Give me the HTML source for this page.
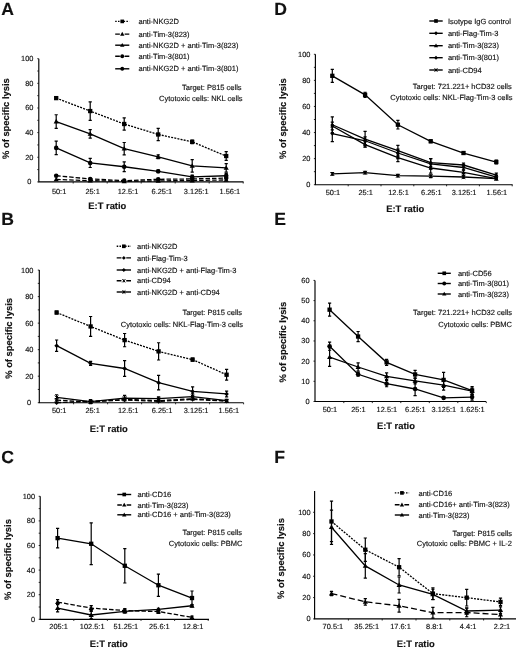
<!DOCTYPE html>
<html><head><meta charset="utf-8"><title>Figure</title>
<style>
html,body{margin:0;padding:0;background:#fff;}
body{width:520px;height:650px;overflow:hidden;}
svg{display:block;filter:blur(0.3px);}
text{font-family:"Liberation Sans",sans-serif;fill:#111;stroke:#111;stroke-width:0.15px;text-rendering:geometricPrecision;}
</style></head>
<body>
<svg width="520" height="650" viewBox="0 0 520 650">
<rect width="520" height="650" fill="#fff"/>
<g fill="#000">
<text x="1.2" y="15.2" font-size="17.6" font-weight="bold">A</text>
<path d="M38.8,58.7V181.9H243.5" fill="none" stroke="#000" stroke-width="1.15"/>
<path d="M38.8,181.9h-1.5M38.8,169.58h-1.5M38.8,157.26h-1.5M38.8,144.94h-1.5M38.8,132.62h-1.5M38.8,120.3h-1.5M38.8,107.98h-1.5M38.8,95.66h-1.5M38.8,83.34h-1.5M38.8,71.02h-1.5M38.8,58.7h-1.5M73.2,181.9v1.6M107.2,181.9v1.6M141.2,181.9v1.6M175.2,181.9v1.6M209.2,181.9v1.6M243.2,181.9v1.6" fill="none" stroke="#111" stroke-width="0.9"/>
<text x="31.4" y="184.35" font-size="7.4" text-anchor="end">0</text>
<text x="33.4" y="159.71" font-size="7.4" text-anchor="end">20</text>
<text x="33.4" y="135.07" font-size="7.4" text-anchor="end">40</text>
<text x="33.4" y="110.43" font-size="7.4" text-anchor="end">60</text>
<text x="33.4" y="85.79" font-size="7.4" text-anchor="end">80</text>
<text x="33.4" y="61.15" font-size="7.4" text-anchor="end">100</text>
<text x="59.1" y="194" font-size="7.4" text-anchor="middle">50:1</text>
<text x="92.6" y="194" font-size="7.4" text-anchor="middle">25:1</text>
<text x="128" y="194" font-size="7.4" text-anchor="middle">12.5:1</text>
<text x="161.8" y="194" font-size="7.4" text-anchor="middle">6.25:1</text>
<text x="196.2" y="194" font-size="7.4" text-anchor="middle">3.125:1</text>
<text x="229.8" y="194" font-size="7.4" text-anchor="middle">1.56:1</text>
<text x="88.3" y="208.5" font-size="9.4" font-weight="bold">E:T ratio</text>
<text transform="translate(9.4,159) rotate(-90)" font-size="9.4" font-weight="bold">% of specific lysis</text>
<text x="241.6" y="90.2" font-size="7.5" text-anchor="end">Target: P815 cells</text>
<text x="242.6" y="101" font-size="7.5" text-anchor="end">Cytotoxic cells: NKL cells</text>
<path d="M115.2,21.4H129.3" stroke="#000" stroke-width="1.4000000000000001" stroke-dasharray="1.5,1.3"/>
<rect x="120.42" y="19.57" width="3.65" height="3.65"/>
<text x="138.5" y="24" font-size="7.5">anti-NKG2D</text>
<path d="M115.2,34.1H119.85M124.65,34.1H129.3" stroke="#000" stroke-width="1.4000000000000001"/>
<path d="M122.25,31.8L124.43,35.71L120.07,35.71Z"/>
<text x="138.5" y="36.7" font-size="7.5">anti-Tim-3(823)</text>
<path d="M115.2,45.2H129.3" stroke="#000" stroke-width="1.4000000000000001"/>
<path d="M122.25,42.91L124.43,46.81L120.07,46.81Z"/>
<text x="138.5" y="47.8" font-size="7.5">anti-NKG2D + anti-Tim-3(823)</text>
<path d="M115.2,56.3H119.85M124.65,56.3H129.3" stroke="#000" stroke-width="1.4000000000000001"/>
<circle cx="122.25" cy="56.3" r="1.95"/>
<text x="138.5" y="58.9" font-size="7.5">anti-Tim-3(801)</text>
<path d="M115.2,68.8H129.3" stroke="#000" stroke-width="1.4000000000000001"/>
<circle cx="122.25" cy="68.8" r="1.95"/>
<text x="138.5" y="71.4" font-size="7.5">anti-NKG2D + anti-Tim-3(801)</text>
<polyline points="56.2,98.12 90.2,111.06 124.2,124 158.2,134.47 192.2,141.86 226.2,156.03" fill="none" stroke="#000" stroke-width="1.3" stroke-dasharray="2,1.2"/>
<polyline points="56.2,179.44 90.2,180.67 124.2,181.28 158.2,180.91 192.2,180.54 226.2,179.93" fill="none" stroke="#000" stroke-width="1.3" stroke-dasharray="4.5,2"/>
<polyline points="56.2,121.53 90.2,133.85 124.2,148.64 158.2,156.77 192.2,165.88 226.2,167.86" fill="none" stroke="#000" stroke-width="1.3"/>
<polyline points="56.2,175.74 90.2,178.94 124.2,180.67 158.2,179.31 192.2,178.94 226.2,178.08" fill="none" stroke="#000" stroke-width="1.3" stroke-dasharray="4.5,2"/>
<polyline points="56.2,147.9 90.2,162.93 124.2,166.75 158.2,171.3 192.2,176.97 226.2,175.74" fill="none" stroke="#000" stroke-width="1.3"/>
<path d="M56.2,96.89V99.36M54.6,96.89h3.2M54.6,99.36h3.2M90.2,101.82V120.3M88.6,101.82h3.2M88.6,120.3h3.2M124.2,117.84V130.16M122.6,117.84h3.2M122.6,130.16h3.2M158.2,128.31V140.63M156.6,128.31h3.2M156.6,140.63h3.2M192.2,140.01V143.71M190.6,140.01h3.2M190.6,143.71h3.2M226.2,151.72V160.34M224.6,151.72h3.2M224.6,160.34h3.2" fill="none" stroke="#000" stroke-width="1.2"/>
<rect x="54.05" y="95.97" width="4.3" height="4.3"/>
<rect x="88.05" y="108.91" width="4.3" height="4.3"/>
<rect x="122.05" y="121.85" width="4.3" height="4.3"/>
<rect x="156.05" y="132.32" width="4.3" height="4.3"/>
<rect x="190.05" y="139.71" width="4.3" height="4.3"/>
<rect x="224.05" y="153.88" width="4.3" height="4.3"/>
<path d="M56.2,176.74L58.77,181.33L53.64,181.33Z"/>
<path d="M90.2,177.97L92.77,182.56L87.64,182.56Z"/>
<path d="M124.2,178.58L126.77,183.17L121.64,183.17Z"/>
<path d="M158.2,178.21L160.76,182.8L155.63,182.8Z"/>
<path d="M192.2,177.84L194.76,182.43L189.63,182.43Z"/>
<path d="M226.2,177.23L228.76,181.82L223.63,181.82Z"/>
<path d="M56.2,114.76V128.31M54.6,114.76h3.2M54.6,128.31h3.2M90.2,129.54V138.16M88.6,129.54h3.2M88.6,138.16h3.2M124.2,142.48V154.8M122.6,142.48h3.2M122.6,154.8h3.2M158.2,154.92V158.62M156.6,154.92h3.2M156.6,158.62h3.2M192.2,159.72V172.04M190.6,159.72h3.2M190.6,172.04h3.2M226.2,163.54V172.17M224.6,163.54h3.2M224.6,172.17h3.2" fill="none" stroke="#000" stroke-width="1.2"/>
<path d="M56.2,118.83L58.77,123.42L53.64,123.42Z"/>
<path d="M90.2,131.15L92.77,135.74L87.64,135.74Z"/>
<path d="M124.2,145.94L126.77,150.53L121.64,150.53Z"/>
<path d="M158.2,154.07L160.76,158.66L155.63,158.66Z"/>
<path d="M192.2,163.18L194.76,167.77L189.63,167.77Z"/>
<path d="M226.2,165.16L228.76,169.75L223.63,169.75Z"/>
<circle cx="56.2" cy="175.74" r="2.3"/>
<circle cx="90.2" cy="178.94" r="2.3"/>
<circle cx="124.2" cy="180.67" r="2.3"/>
<circle cx="158.2" cy="179.31" r="2.3"/>
<circle cx="192.2" cy="178.94" r="2.3"/>
<circle cx="226.2" cy="178.08" r="2.3"/>
<path d="M56.2,141.12V154.67M54.6,141.12h3.2M54.6,154.67h3.2M90.2,158.37V167.49M88.6,158.37h3.2M88.6,167.49h3.2M124.2,161.82V171.67M122.6,161.82h3.2M122.6,171.67h3.2M158.2,170.07V172.54M156.6,170.07h3.2M156.6,172.54h3.2M192.2,175.12V178.82M190.6,175.12h3.2M190.6,178.82h3.2M226.2,173.28V178.2M224.6,173.28h3.2M224.6,178.2h3.2" fill="none" stroke="#000" stroke-width="1.2"/>
<circle cx="56.2" cy="147.9" r="2.3"/>
<circle cx="90.2" cy="162.93" r="2.3"/>
<circle cx="124.2" cy="166.75" r="2.3"/>
<circle cx="158.2" cy="171.3" r="2.3"/>
<circle cx="192.2" cy="176.97" r="2.3"/>
<circle cx="226.2" cy="175.74" r="2.3"/>
<text x="1.2" y="225" font-size="17.6" font-weight="bold">B</text>
<path d="M39.3,270.1V402.7H243.5" fill="none" stroke="#000" stroke-width="1.15"/>
<path d="M39.3,402.7h-1.5M39.3,389.44h-1.5M39.3,376.18h-1.5M39.3,362.92h-1.5M39.3,349.66h-1.5M39.3,336.4h-1.5M39.3,323.14h-1.5M39.3,309.88h-1.5M39.3,296.62h-1.5M39.3,283.36h-1.5M39.3,270.1h-1.5M73.6,402.7v1.6M107.6,402.7v1.6M141.6,402.7v1.6M175.6,402.7v1.6M209.6,402.7v1.6M243.6,402.7v1.6" fill="none" stroke="#111" stroke-width="0.9"/>
<text x="31.2" y="405.15" font-size="7.4" text-anchor="end">0</text>
<text x="33.4" y="378.63" font-size="7.4" text-anchor="end">20</text>
<text x="33.4" y="352.11" font-size="7.4" text-anchor="end">40</text>
<text x="33.4" y="325.59" font-size="7.4" text-anchor="end">60</text>
<text x="33.4" y="299.07" font-size="7.4" text-anchor="end">80</text>
<text x="33.4" y="272.55" font-size="7.4" text-anchor="end">100</text>
<text x="59.2" y="413" font-size="7.4" text-anchor="middle">50:1</text>
<text x="92.6" y="413" font-size="7.4" text-anchor="middle">25:1</text>
<text x="128.2" y="413" font-size="7.4" text-anchor="middle">12.5:1</text>
<text x="162" y="413" font-size="7.4" text-anchor="middle">6.25:1</text>
<text x="196.1" y="413" font-size="7.4" text-anchor="middle">3.125:1</text>
<text x="228.8" y="413" font-size="7.4" text-anchor="middle">1.56:1</text>
<text x="89.8" y="431.8" font-size="9.4" font-weight="bold">E:T ratio</text>
<text transform="translate(12,378.8) rotate(-90)" font-size="9.4" font-weight="bold">% of specific lysis</text>
<text x="242" y="314.5" font-size="7.5" text-anchor="end">Target: P815 cells</text>
<text x="243" y="327" font-size="7.5" text-anchor="end">Cytotoxic cells: NKL-Flag-Tim-3 cells</text>
<path d="M116.7,246.3H131" stroke="#000" stroke-width="1.4000000000000001" stroke-dasharray="1.5,1.3"/>
<rect x="122.02" y="244.47" width="3.65" height="3.65"/>
<text x="137" y="248.9" font-size="7.5">anti-NKG2D</text>
<path d="M116.7,257.9H121.45M126.25,257.9H131" stroke="#000" stroke-width="1.4000000000000001"/>
<path d="M123.85,255.94L125.8,257.9L123.85,259.85L121.89,257.9Z"/>
<text x="137" y="260.5" font-size="7.5">anti-Flag-Tim-3</text>
<path d="M116.7,270H131" stroke="#000" stroke-width="1.4000000000000001"/>
<path d="M123.85,268.05L125.8,270L123.85,271.95L121.89,270Z"/>
<text x="137" y="272.6" font-size="7.5">anti-NKG2D + anti-Flag-Tim-3</text>
<path d="M116.7,280.8H121.45M126.25,280.8H131" stroke="#000" stroke-width="1.4000000000000001"/>
<path d="M122.32,279.27L125.38,282.33M125.38,279.27L122.32,282.33M123.85,279.27L123.85,282.33" fill="none" stroke="#000" stroke-width="1"/>
<text x="137" y="283.4" font-size="7.5">anti-CD94</text>
<path d="M116.7,292H131" stroke="#000" stroke-width="1.4000000000000001"/>
<path d="M122.32,290.47L125.38,293.53M125.38,290.47L122.32,293.53M123.85,290.47L123.85,293.53" fill="none" stroke="#000" stroke-width="1"/>
<text x="137" y="294.6" font-size="7.5">anti-NKG2D + anti-CD94</text>
<polyline points="56.6,312.53 90.6,326.45 124.6,340.11 158.6,351.38 192.6,359.61 226.6,374.72" fill="none" stroke="#000" stroke-width="1.3" stroke-dasharray="2,1.2"/>
<polyline points="56.6,402.7 90.6,401.37 124.6,400.05 158.6,401.37 192.6,399.38 226.6,401.11" fill="none" stroke="#000" stroke-width="1.3" stroke-dasharray="4.5,2"/>
<polyline points="56.6,345.68 90.6,363.45 124.6,368.49 158.6,382.68 192.6,391.43 226.6,393.95" fill="none" stroke="#000" stroke-width="1.3"/>
<polyline points="56.6,400.05 90.6,402.04 124.6,399.38 158.6,400.71 192.6,398.72 226.6,400.98" fill="none" stroke="#000" stroke-width="1.3" stroke-dasharray="4.5,2"/>
<polyline points="56.6,397.4 90.6,401.64 124.6,398.06 158.6,398.72 192.6,396.6 226.6,400.71" fill="none" stroke="#000" stroke-width="1.3"/>
<path d="M56.6,311.21V313.86M55,311.21h3.2M55,313.86h3.2M90.6,316.51V336.4M89,316.51h3.2M89,336.4h3.2M124.6,333.48V346.74M123,333.48h3.2M123,346.74h3.2M158.6,342.76V360M157,342.76h3.2M157,360h3.2M192.6,358.01V361.2M191,358.01h3.2M191,361.2h3.2M226.6,369.42V380.03M225,369.42h3.2M225,380.03h3.2" fill="none" stroke="#000" stroke-width="1.2"/>
<rect x="54.45" y="310.38" width="4.3" height="4.3"/>
<rect x="88.45" y="324.31" width="4.3" height="4.3"/>
<rect x="122.45" y="337.96" width="4.3" height="4.3"/>
<rect x="156.45" y="349.23" width="4.3" height="4.3"/>
<rect x="190.45" y="357.46" width="4.3" height="4.3"/>
<rect x="224.45" y="372.57" width="4.3" height="4.3"/>
<path d="M56.6,400.4L58.9,402.7L56.6,405L54.3,402.7Z"/>
<path d="M90.6,399.07L92.9,401.37L90.6,403.67L88.3,401.37Z"/>
<path d="M124.6,397.75L126.9,400.05L124.6,402.35L122.3,400.05Z"/>
<path d="M158.6,399.07L160.9,401.37L158.6,403.67L156.3,401.37Z"/>
<path d="M192.6,397.08L194.9,399.38L192.6,401.69L190.3,399.38Z"/>
<path d="M226.6,398.81L228.9,401.11L226.6,403.41L224.3,401.11Z"/>
<path d="M56.6,339.98V351.38M55,339.98h3.2M55,351.38h3.2M90.6,361.46V365.44M89,361.46h3.2M89,365.44h3.2M124.6,360.53V376.45M123,360.53h3.2M123,376.45h3.2M158.6,375.38V389.97M157,375.38h3.2M157,389.97h3.2M192.6,386.79V396.07M191,386.79h3.2M191,396.07h3.2M226.6,391.03V396.87M225,391.03h3.2M225,396.87h3.2" fill="none" stroke="#000" stroke-width="1.2"/>
<path d="M56.6,343.38L58.9,345.68L56.6,347.98L54.3,345.68Z"/>
<path d="M90.6,361.15L92.9,363.45L90.6,365.75L88.3,363.45Z"/>
<path d="M124.6,366.19L126.9,368.49L124.6,370.79L122.3,368.49Z"/>
<path d="M158.6,380.38L160.9,382.68L158.6,384.98L156.3,382.68Z"/>
<path d="M192.6,389.13L194.9,391.43L192.6,393.73L190.3,391.43Z"/>
<path d="M226.6,391.65L228.9,393.95L226.6,396.25L224.3,393.95Z"/>
<path d="M54.8,398.25L58.4,401.85M58.4,398.25L54.8,401.85M56.6,398.25L56.6,401.85" fill="none" stroke="#000" stroke-width="1"/>
<path d="M88.8,400.24L92.4,403.84M92.4,400.24L88.8,403.84M90.6,400.24L90.6,403.84" fill="none" stroke="#000" stroke-width="1"/>
<path d="M122.8,397.58L126.4,401.19M126.4,397.58L122.8,401.19M124.6,397.58L124.6,401.19" fill="none" stroke="#000" stroke-width="1"/>
<path d="M156.8,398.91L160.4,402.51M160.4,398.91L156.8,402.51M158.6,398.91L158.6,402.51" fill="none" stroke="#000" stroke-width="1"/>
<path d="M190.8,396.92L194.4,400.52M194.4,396.92L190.8,400.52M192.6,396.92L192.6,400.52" fill="none" stroke="#000" stroke-width="1"/>
<path d="M224.8,399.18L228.4,402.78M228.4,399.18L224.8,402.78M226.6,399.18L226.6,402.78" fill="none" stroke="#000" stroke-width="1"/>
<path d="M56.6,394.74V400.05M55,394.74h3.2M55,400.05h3.2M90.6,399.65V403.63M89,399.65h3.2M89,403.63h3.2M124.6,395.41V400.71M123,395.41h3.2M123,400.71h3.2M158.6,396.73V400.71M157,396.73h3.2M157,400.71h3.2M192.6,393.95V399.25M191,393.95h3.2M191,399.25h3.2M226.6,399.38V402.04M225,399.38h3.2M225,402.04h3.2" fill="none" stroke="#000" stroke-width="1.2"/>
<path d="M54.8,395.6L58.4,399.2M58.4,395.6L54.8,399.2M56.6,395.6L56.6,399.2" fill="none" stroke="#000" stroke-width="1"/>
<path d="M88.8,399.84L92.4,403.44M92.4,399.84L88.8,403.44M90.6,399.84L90.6,403.44" fill="none" stroke="#000" stroke-width="1"/>
<path d="M122.8,396.26L126.4,399.86M126.4,396.26L122.8,399.86M124.6,396.26L124.6,399.86" fill="none" stroke="#000" stroke-width="1"/>
<path d="M156.8,396.92L160.4,400.52M160.4,396.92L156.8,400.52M158.6,396.92L158.6,400.52" fill="none" stroke="#000" stroke-width="1"/>
<path d="M190.8,394.8L194.4,398.4M194.4,394.8L190.8,398.4M192.6,394.8L192.6,398.4" fill="none" stroke="#000" stroke-width="1"/>
<path d="M224.8,398.91L228.4,402.51M228.4,398.91L224.8,402.51M226.6,398.91L226.6,402.51" fill="none" stroke="#000" stroke-width="1"/>
<text x="1.2" y="463" font-size="17.6" font-weight="bold">C</text>
<path d="M40.2,496.3V619.3H209" fill="none" stroke="#000" stroke-width="1.15"/>
<path d="M40.2,619.3h-1.5M40.2,607h-1.5M40.2,594.7h-1.5M40.2,582.4h-1.5M40.2,570.1h-1.5M40.2,557.8h-1.5M40.2,545.5h-1.5M40.2,533.2h-1.5M40.2,520.9h-1.5M40.2,508.6h-1.5M40.2,496.3h-1.5M73.8,619.3v1.6M107.4,619.3v1.6M141,619.3v1.6M174.6,619.3v1.6M208.2,619.3v1.6" fill="none" stroke="#111" stroke-width="0.9"/>
<text x="35" y="621.75" font-size="7.4" text-anchor="end">0</text>
<text x="35" y="597.15" font-size="7.4" text-anchor="end">20</text>
<text x="35" y="572.55" font-size="7.4" text-anchor="end">40</text>
<text x="35" y="547.95" font-size="7.4" text-anchor="end">60</text>
<text x="35" y="523.35" font-size="7.4" text-anchor="end">80</text>
<text x="35" y="498.75" font-size="7.4" text-anchor="end">100</text>
<text x="58.6" y="628.6" font-size="7.4" text-anchor="middle">205:1</text>
<text x="92.2" y="628.6" font-size="7.4" text-anchor="middle">102.5:1</text>
<text x="125.8" y="628.6" font-size="7.4" text-anchor="middle">51.25:1</text>
<text x="159.4" y="628.6" font-size="7.4" text-anchor="middle">25.6:1</text>
<text x="193" y="628.6" font-size="7.4" text-anchor="middle">12.8:1</text>
<text x="89.8" y="647" font-size="9.4" font-weight="bold">E:T ratio</text>
<text transform="translate(11.4,599.9) rotate(-90)" font-size="9.4" font-weight="bold">% of specific lysis</text>
<text x="242" y="535.3" font-size="7.5" text-anchor="end">Target: P815 cells</text>
<text x="242.5" y="545.6" font-size="7.5" text-anchor="end">Cytotoxic cells: PBMC</text>
<path d="M117.3,494.5H131.2" stroke="#000" stroke-width="1.4000000000000001"/>
<rect x="122.42" y="492.67" width="3.65" height="3.65"/>
<text x="137.5" y="497.1" font-size="7.5">anti-CD16</text>
<path d="M117.3,505H121.85M126.65,505H131.2" stroke="#000" stroke-width="1.4000000000000001"/>
<path d="M124.25,502.7L126.43,506.61L122.07,506.61Z"/>
<text x="137.5" y="507.6" font-size="7.5">anti-Tim-3(823)</text>
<path d="M117.3,514.8H131.2" stroke="#000" stroke-width="1.4000000000000001"/>
<path d="M124.25,512.5L126.43,516.41L122.07,516.41Z"/>
<text x="137.5" y="517.4" font-size="7.5">anti-CD16 + anti-Tim-3(823)</text>
<polyline points="57.6,538.12 91.2,543.78 124.8,565.79 158.4,585.23 192,598.02" fill="none" stroke="#000" stroke-width="1.3"/>
<polyline points="57.6,602.08 91.2,608.11 124.8,610.57 158.4,611.55 192,617.33" fill="none" stroke="#000" stroke-width="1.3" stroke-dasharray="4.5,2"/>
<polyline points="57.6,608.11 91.2,615 124.8,611.3 158.4,609.46 192,605.77" fill="none" stroke="#000" stroke-width="1.3"/>
<path d="M57.6,528.28V547.96M56,528.28h3.2M56,547.96h3.2M91.2,522.87V564.69M89.6,522.87h3.2M89.6,564.69h3.2M124.8,548.57V583.01M123.2,548.57h3.2M123.2,583.01h3.2M158.4,574.16V596.3M156.8,574.16h3.2M156.8,596.3h3.2M192,591.01V605.03M190.4,591.01h3.2M190.4,605.03h3.2" fill="none" stroke="#000" stroke-width="1.2"/>
<rect x="55.45" y="535.97" width="4.3" height="4.3"/>
<rect x="89.05" y="541.63" width="4.3" height="4.3"/>
<rect x="122.65" y="563.64" width="4.3" height="4.3"/>
<rect x="156.25" y="583.08" width="4.3" height="4.3"/>
<rect x="189.85" y="595.87" width="4.3" height="4.3"/>
<path d="M57.6,599.62V604.54M56,599.62h3.2M56,604.54h3.2M91.2,605.65V610.57M89.6,605.65h3.2M89.6,610.57h3.2M124.8,608.72V612.41M123.2,608.72h3.2M123.2,612.41h3.2M158.4,609.71V613.4M156.8,609.71h3.2M156.8,613.4h3.2M192,616.1V618.56M190.4,616.1h3.2M190.4,618.56h3.2" fill="none" stroke="#000" stroke-width="1.2"/>
<path d="M57.6,599.38L60.16,603.97L55.04,603.97Z"/>
<path d="M91.2,605.41L93.77,610L88.64,610Z"/>
<path d="M124.8,607.87L127.37,612.46L122.24,612.46Z"/>
<path d="M158.4,608.85L160.97,613.44L155.84,613.44Z"/>
<path d="M192,614.63L194.56,619.22L189.44,619.22Z"/>
<path d="M57.6,604.42V611.8M56,604.42h3.2M56,611.8h3.2M91.2,611.3V618.68M89.6,611.3h3.2M89.6,618.68h3.2M124.8,609.46V613.15M123.2,609.46h3.2M123.2,613.15h3.2M158.4,608.23V610.69M156.8,608.23h3.2M156.8,610.69h3.2M192,604.54V607M190.4,604.54h3.2M190.4,607h3.2" fill="none" stroke="#000" stroke-width="1.2"/>
<path d="M57.6,605.41L60.16,610L55.04,610Z"/>
<path d="M91.2,612.29L93.77,616.88L88.64,616.88Z"/>
<path d="M124.8,608.6L127.37,613.19L122.24,613.19Z"/>
<path d="M158.4,606.76L160.97,611.35L155.84,611.35Z"/>
<path d="M192,603.07L194.56,607.66L189.44,607.66Z"/>
<text x="274.3" y="15.4" font-size="17.6" font-weight="bold">D</text>
<path d="M315.4,54.3V184.7H512.6" fill="none" stroke="#000" stroke-width="1.15"/>
<path d="M315.4,184.7h-1.5M315.4,171.66h-1.5M315.4,158.62h-1.5M315.4,145.58h-1.5M315.4,132.54h-1.5M315.4,119.5h-1.5M315.4,106.46h-1.5M315.4,93.42h-1.5M315.4,80.38h-1.5M315.4,67.34h-1.5M315.4,54.3h-1.5M348.2,184.7v1.6M381,184.7v1.6M413.8,184.7v1.6M446.6,184.7v1.6M479.4,184.7v1.6M512.2,184.7v1.6" fill="none" stroke="#111" stroke-width="0.9"/>
<text x="310.4" y="187.15" font-size="7.4" text-anchor="end">0</text>
<text x="310.4" y="161.07" font-size="7.4" text-anchor="end">20</text>
<text x="310.4" y="134.99" font-size="7.4" text-anchor="end">40</text>
<text x="310.4" y="108.91" font-size="7.4" text-anchor="end">60</text>
<text x="310.4" y="82.83" font-size="7.4" text-anchor="end">80</text>
<text x="310.4" y="56.75" font-size="7.4" text-anchor="end">100</text>
<text x="332.9" y="194.6" font-size="7.4" text-anchor="middle">50:1</text>
<text x="365.7" y="194.6" font-size="7.4" text-anchor="middle">25:1</text>
<text x="398.5" y="194.6" font-size="7.4" text-anchor="middle">12.5:1</text>
<text x="431.3" y="194.6" font-size="7.4" text-anchor="middle">6.25:1</text>
<text x="464.1" y="194.6" font-size="7.4" text-anchor="middle">3.125:1</text>
<text x="496.9" y="194.6" font-size="7.4" text-anchor="middle">1.56:1</text>
<text x="386.2" y="211.6" font-size="9.4" font-weight="bold">E:T ratio</text>
<text transform="translate(285.7,159) rotate(-90)" font-size="9.4" font-weight="bold">% of specific lysis</text>
<text x="511.8" y="88.8" font-size="7.5" text-anchor="end">Target: 721.221+ hCD32 cells</text>
<text x="512.5" y="100" font-size="7.5" text-anchor="end">Cytotoxic cells: NKL-Flag-Tim-3 cells</text>
<path d="M429.3,21H442.7" stroke="#000" stroke-width="1.4000000000000001"/>
<rect x="434.17" y="19.17" width="3.65" height="3.65"/>
<text x="447.9" y="23.6" font-size="7.5">Isotype IgG control</text>
<path d="M429.3,33.3H442.7" stroke="#000" stroke-width="1.4000000000000001"/>
<path d="M436,31.34L437.95,33.3L436,35.25L434.05,33.3Z"/>
<text x="447.9" y="35.9" font-size="7.5">anti-Flag-Tim-3</text>
<path d="M429.3,45.7H442.7" stroke="#000" stroke-width="1.4000000000000001"/>
<path d="M436,43.41L438.18,47.31L433.82,47.31Z"/>
<text x="447.9" y="48.3" font-size="7.5">anti-Tim-3(823)</text>
<path d="M429.3,57.7H442.7" stroke="#000" stroke-width="1.4000000000000001"/>
<path d="M436,55.75L437.95,57.7L436,59.66L434.05,57.7Z"/>
<text x="447.9" y="60.3" font-size="7.5">anti-Tim-3(801)</text>
<path d="M429.3,70H442.7" stroke="#000" stroke-width="1.4000000000000001"/>
<path d="M434.47,68.47L437.53,71.53M437.53,68.47L434.47,71.53M436,68.47L436,71.53" fill="none" stroke="#000" stroke-width="1"/>
<text x="447.9" y="72.6" font-size="7.5">anti-CD94</text>
<polyline points="332.3,75.82 365.1,94.85 397.9,124.72 430.7,141.28 463.5,153.01 496.3,162.01" fill="none" stroke="#000" stroke-width="1.3"/>
<polyline points="332.3,124.72 365.1,139.19 397.9,150.54 430.7,162.53 463.5,165.01 496.3,175.05" fill="none" stroke="#000" stroke-width="1.3"/>
<polyline points="332.3,126.02 365.1,144.54 397.9,157.71 430.7,168.01 463.5,172.44 496.3,178.7" fill="none" stroke="#000" stroke-width="1.3"/>
<polyline points="332.3,133.58 365.1,140.76 397.9,153.01 430.7,163.84 463.5,167.49 496.3,177.01" fill="none" stroke="#000" stroke-width="1.3"/>
<polyline points="332.3,173.88 365.1,172.7 397.9,175.7 430.7,176.22 463.5,177.01 496.3,178.7" fill="none" stroke="#000" stroke-width="1.3"/>
<path d="M332.3,69.3V82.34M330.7,69.3h3.2M330.7,82.34h3.2M365.1,92.25V97.46M363.5,92.25h3.2M363.5,97.46h3.2M397.9,120.41V129.02M396.3,120.41h3.2M396.3,129.02h3.2M430.7,139.97V142.58M429.1,139.97h3.2M429.1,142.58h3.2M463.5,151.71V154.32M461.9,151.71h3.2M461.9,154.32h3.2M496.3,160.05V163.97M494.7,160.05h3.2M494.7,163.97h3.2" fill="none" stroke="#000" stroke-width="1.2"/>
<rect x="330.15" y="73.67" width="4.3" height="4.3"/>
<rect x="362.95" y="92.7" width="4.3" height="4.3"/>
<rect x="395.75" y="122.57" width="4.3" height="4.3"/>
<rect x="428.55" y="139.13" width="4.3" height="4.3"/>
<rect x="461.35" y="150.86" width="4.3" height="4.3"/>
<rect x="494.15" y="159.86" width="4.3" height="4.3"/>
<path d="M332.3,116.89V132.54M330.7,116.89h3.2M330.7,132.54h3.2M365.1,131.37V147.01M363.5,131.37h3.2M363.5,147.01h3.2M397.9,145.32V155.75M396.3,145.32h3.2M396.3,155.75h3.2M430.7,158.62V166.44M429.1,158.62h3.2M429.1,166.44h3.2M463.5,163.05V166.97M461.9,163.05h3.2M461.9,166.97h3.2M496.3,173.09V177.01M494.7,173.09h3.2M494.7,177.01h3.2" fill="none" stroke="#000" stroke-width="1.2"/>
<path d="M332.3,122.88L334.14,124.72L332.3,126.56L330.46,124.72Z"/>
<path d="M365.1,137.35L366.94,139.19L365.1,141.03L363.26,139.19Z"/>
<path d="M397.9,148.7L399.74,150.54L397.9,152.38L396.06,150.54Z"/>
<path d="M430.7,160.69L432.54,162.53L430.7,164.37L428.86,162.53Z"/>
<path d="M463.5,163.17L465.34,165.01L463.5,166.85L461.66,165.01Z"/>
<path d="M496.3,173.21L498.14,175.05L496.3,176.89L494.46,175.05Z"/>
<path d="M332.3,122.11V129.93M330.7,122.11h3.2M330.7,129.93h3.2M365.1,141.93V147.14M363.5,141.93h3.2M363.5,147.14h3.2M397.9,153.8V161.62M396.3,153.8h3.2M396.3,161.62h3.2M430.7,162.79V173.22M429.1,162.79h3.2M429.1,173.22h3.2M463.5,169.83V175.05M461.9,169.83h3.2M461.9,175.05h3.2M496.3,177.4V180.01M494.7,177.4h3.2M494.7,180.01h3.2" fill="none" stroke="#000" stroke-width="1.2"/>
<path d="M332.3,123.86L334.35,127.53L330.25,127.53Z"/>
<path d="M365.1,142.38L367.15,146.05L363.05,146.05Z"/>
<path d="M397.9,155.55L399.95,159.22L395.85,159.22Z"/>
<path d="M430.7,165.85L432.75,169.52L428.65,169.52Z"/>
<path d="M463.5,170.28L465.55,173.95L461.45,173.95Z"/>
<path d="M496.3,176.54L498.35,180.21L494.25,180.21Z"/>
<path d="M332.3,125.5V141.67M330.7,125.5h3.2M330.7,141.67h3.2M365.1,136.84V144.67M363.5,136.84h3.2M363.5,144.67h3.2M397.9,149.1V156.92M396.3,149.1h3.2M396.3,156.92h3.2M430.7,158.62V169.05M429.1,158.62h3.2M429.1,169.05h3.2M463.5,164.88V170.1M461.9,164.88h3.2M461.9,170.1h3.2M496.3,175.7V178.31M494.7,175.7h3.2M494.7,178.31h3.2" fill="none" stroke="#000" stroke-width="1.2"/>
<path d="M332.3,131.51L334.37,133.58L332.3,135.65L330.23,133.58Z"/>
<path d="M365.1,138.69L367.17,140.76L365.1,142.83L363.03,140.76Z"/>
<path d="M397.9,150.94L399.97,153.01L397.9,155.08L395.83,153.01Z"/>
<path d="M430.7,161.77L432.77,163.84L430.7,165.91L428.63,163.84Z"/>
<path d="M463.5,165.42L465.57,167.49L463.5,169.56L461.43,167.49Z"/>
<path d="M496.3,174.94L498.37,177.01L496.3,179.08L494.23,177.01Z"/>
<path d="M332.3,172.57V175.18M330.7,172.57h3.2M330.7,175.18h3.2M365.1,171.4V174.01M363.5,171.4h3.2M363.5,174.01h3.2M397.9,174.4V177.01M396.3,174.4h3.2M396.3,177.01h3.2M430.7,174.92V177.53M429.1,174.92h3.2M429.1,177.53h3.2M463.5,175.96V178.05M461.9,175.96h3.2M461.9,178.05h3.2M496.3,177.66V179.74M494.7,177.66h3.2M494.7,179.74h3.2" fill="none" stroke="#000" stroke-width="1.2"/>
<path d="M330.5,172.08L334.1,175.68M334.1,172.08L330.5,175.68M332.3,172.08L332.3,175.68" fill="none" stroke="#000" stroke-width="1"/>
<path d="M363.3,170.9L366.9,174.5M366.9,170.9L363.3,174.5M365.1,170.9L365.1,174.5" fill="none" stroke="#000" stroke-width="1"/>
<path d="M396.1,173.9L399.7,177.5M399.7,173.9L396.1,177.5M397.9,173.9L397.9,177.5" fill="none" stroke="#000" stroke-width="1"/>
<path d="M428.9,174.42L432.5,178.02M432.5,174.42L428.9,178.02M430.7,174.42L430.7,178.02" fill="none" stroke="#000" stroke-width="1"/>
<path d="M461.7,175.21L465.3,178.81M465.3,175.21L461.7,178.81M463.5,175.21L463.5,178.81" fill="none" stroke="#000" stroke-width="1"/>
<path d="M494.5,176.9L498.1,180.5M498.1,176.9L494.5,180.5M496.3,176.9L496.3,180.5" fill="none" stroke="#000" stroke-width="1"/>
<text x="274.3" y="225" font-size="17.6" font-weight="bold">E</text>
<path d="M315,280.42V401.5H486" fill="none" stroke="#000" stroke-width="1.15"/>
<path d="M315,401.5h-1.5M315,381.32h-1.5M315,361.14h-1.5M315,340.96h-1.5M315,320.78h-1.5M315,300.6h-1.5M315,280.42h-1.5M343.8,401.5v1.6M372.3,401.5v1.6M400.8,401.5v1.6M429.3,401.5v1.6M457.8,401.5v1.6M486.3,401.5v1.6" fill="none" stroke="#111" stroke-width="0.9"/>
<text x="309.6" y="403.95" font-size="7.4" text-anchor="end">0</text>
<text x="309.6" y="383.77" font-size="7.4" text-anchor="end">10</text>
<text x="309.6" y="363.59" font-size="7.4" text-anchor="end">20</text>
<text x="309.6" y="343.41" font-size="7.4" text-anchor="end">30</text>
<text x="309.6" y="323.23" font-size="7.4" text-anchor="end">40</text>
<text x="309.6" y="303.05" font-size="7.4" text-anchor="end">50</text>
<text x="309.6" y="282.87" font-size="7.4" text-anchor="end">60</text>
<text x="329.9" y="412.3" font-size="7.4" text-anchor="middle">50:1</text>
<text x="358.4" y="412.3" font-size="7.4" text-anchor="middle">25:1</text>
<text x="386.9" y="412.3" font-size="7.4" text-anchor="middle">12.5:1</text>
<text x="415.4" y="412.3" font-size="7.4" text-anchor="middle">6.25:1</text>
<text x="443.9" y="412.3" font-size="7.4" text-anchor="middle">3.125:1</text>
<text x="472.4" y="412.3" font-size="7.4" text-anchor="middle">1.625:1</text>
<text x="376.9" y="429" font-size="9.4" font-weight="bold">E:T ratio</text>
<text transform="translate(285.7,382.6) rotate(-90)" font-size="9.4" font-weight="bold">% of specific lysis</text>
<text x="512" y="315.2" font-size="7.5" text-anchor="end">Target: 721.221+ hCD32 cells</text>
<text x="512" y="326.5" font-size="7.5" text-anchor="end">Cytotoxic cells: PBMC</text>
<path d="M437.7,273.3H450.8" stroke="#000" stroke-width="1.4000000000000001"/>
<rect x="442.42" y="271.47" width="3.65" height="3.65"/>
<text x="457.9" y="275.9" font-size="7.5">anti-CD56</text>
<path d="M437.7,283.5H450.8" stroke="#000" stroke-width="1.4000000000000001"/>
<circle cx="444.25" cy="283.5" r="1.95"/>
<text x="457.9" y="286.1" font-size="7.5">anti-Tim-3(801)</text>
<path d="M437.7,294H450.8" stroke="#000" stroke-width="1.4000000000000001"/>
<path d="M444.25,291.7L446.43,295.61L442.07,295.61Z"/>
<text x="457.9" y="296.6" font-size="7.5">anti-Tim-3(823)</text>
<polyline points="329.6,309.68 358.1,336.52 386.6,362.35 415.1,374.46 443.6,379.91 472.1,390.6" fill="none" stroke="#000" stroke-width="1.3"/>
<polyline points="329.6,346.21 358.1,374.26 386.6,383.74 415.1,388.99 443.6,397.87 472.1,397.06" fill="none" stroke="#000" stroke-width="1.3"/>
<polyline points="329.6,357.1 358.1,366.99 386.6,376.27 415.1,380.92 443.6,385.15 472.1,391.21" fill="none" stroke="#000" stroke-width="1.3"/>
<path d="M329.6,303.22V316.14M328,303.22h3.2M328,316.14h3.2M358.1,331.48V341.57M356.5,331.48h3.2M356.5,341.57h3.2M386.6,359.32V365.38M385,359.32h3.2M385,365.38h3.2M415.1,370.42V378.49M413.5,370.42h3.2M413.5,378.49h3.2M443.6,372.44V387.37M442,372.44h3.2M442,387.37h3.2M472.1,386.57V394.64M470.5,386.57h3.2M470.5,394.64h3.2" fill="none" stroke="#000" stroke-width="1.2"/>
<rect x="327.45" y="307.53" width="4.3" height="4.3"/>
<rect x="355.95" y="334.37" width="4.3" height="4.3"/>
<rect x="384.45" y="360.2" width="4.3" height="4.3"/>
<rect x="412.95" y="372.31" width="4.3" height="4.3"/>
<rect x="441.45" y="377.76" width="4.3" height="4.3"/>
<rect x="469.95" y="388.45" width="4.3" height="4.3"/>
<path d="M329.6,342.17V350.24M328,342.17h3.2M328,350.24h3.2M358.1,372.24V376.27M356.5,372.24h3.2M356.5,376.27h3.2M386.6,380.71V386.77M385,380.71h3.2M385,386.77h3.2M415.1,382.33V395.65M413.5,382.33h3.2M413.5,395.65h3.2M443.6,396.86V398.88M442,396.86h3.2M442,398.88h3.2M472.1,394.03V400.09M470.5,394.03h3.2M470.5,400.09h3.2" fill="none" stroke="#000" stroke-width="1.2"/>
<circle cx="329.6" cy="346.21" r="2.3"/>
<circle cx="358.1" cy="374.26" r="2.3"/>
<circle cx="386.6" cy="383.74" r="2.3"/>
<circle cx="415.1" cy="388.99" r="2.3"/>
<circle cx="443.6" cy="397.87" r="2.3"/>
<circle cx="472.1" cy="397.06" r="2.3"/>
<path d="M329.6,347.82V366.39M328,347.82h3.2M328,366.39h3.2M358.1,362.96V371.03M356.5,362.96h3.2M356.5,371.03h3.2M386.6,372.84V379.71M385,372.84h3.2M385,379.71h3.2M415.1,377.89V383.94M413.5,377.89h3.2M413.5,383.94h3.2M443.6,380.11V390.2M442,380.11h3.2M442,390.2h3.2M472.1,388.18V394.24M470.5,388.18h3.2M470.5,394.24h3.2" fill="none" stroke="#000" stroke-width="1.2"/>
<path d="M329.6,354.4L332.17,358.99L327.04,358.99Z"/>
<path d="M358.1,364.29L360.67,368.88L355.54,368.88Z"/>
<path d="M386.6,373.57L389.17,378.16L384.04,378.16Z"/>
<path d="M415.1,378.22L417.67,382.81L412.54,382.81Z"/>
<path d="M443.6,382.45L446.17,387.04L441.04,387.04Z"/>
<path d="M472.1,388.51L474.67,393.1L469.54,393.1Z"/>
<text x="274.3" y="462.5" font-size="17.6" font-weight="bold">F</text>
<path d="M314.6,491V618.9H516" fill="none" stroke="#000" stroke-width="1.15"/>
<path d="M314.6,618.9h-1.5M314.6,597.58h-1.5M314.6,576.26h-1.5M314.6,554.94h-1.5M314.6,533.62h-1.5M314.6,512.3h-1.5M348.4,618.9v1.6M382.2,618.9v1.6M416,618.9v1.6M449.8,618.9v1.6M483.6,618.9v1.6" fill="none" stroke="#111" stroke-width="0.9"/>
<text x="310.6" y="621.35" font-size="7.4" text-anchor="end">0</text>
<text x="310.6" y="600.03" font-size="7.4" text-anchor="end">20</text>
<text x="310.6" y="578.71" font-size="7.4" text-anchor="end">40</text>
<text x="310.6" y="557.39" font-size="7.4" text-anchor="end">60</text>
<text x="310.6" y="536.07" font-size="7.4" text-anchor="end">80</text>
<text x="310.6" y="514.75" font-size="7.4" text-anchor="end">100</text>
<text x="332.9" y="629.2" font-size="7.4" text-anchor="middle">70.5:1</text>
<text x="366.7" y="629.2" font-size="7.4" text-anchor="middle">35.25:1</text>
<text x="400.5" y="629.2" font-size="7.4" text-anchor="middle">17.6:1</text>
<text x="434.3" y="629.2" font-size="7.4" text-anchor="middle">8.8:1</text>
<text x="468.1" y="629.2" font-size="7.4" text-anchor="middle">4.4:1</text>
<text x="501.9" y="629.2" font-size="7.4" text-anchor="middle">2.2:1</text>
<text x="396.8" y="646.6" font-size="9.4" font-weight="bold">E:T ratio</text>
<text transform="translate(283.6,598.9) rotate(-90)" font-size="9.4" font-weight="bold">% of specific lysis</text>
<text x="512" y="535.7" font-size="7.5" text-anchor="end">Target: P815 cells</text>
<text x="512" y="546" font-size="7.5" text-anchor="end">Cytotoxic cells: PBMC + IL-2</text>
<path d="M394.8,492.9H409.1" stroke="#000" stroke-width="1.4000000000000001" stroke-dasharray="1.5,1.3"/>
<rect x="400.12" y="491.07" width="3.65" height="3.65"/>
<text x="418.5" y="495.5" font-size="7.5">anti-CD16</text>
<path d="M394.8,504.8H399.55M404.35,504.8H409.1" stroke="#000" stroke-width="1.4000000000000001"/>
<path d="M401.95,502.5L404.13,506.41L399.77,506.41Z"/>
<text x="418.5" y="507.4" font-size="7.5">anti-CD16+ anti-Tim-3(823)</text>
<path d="M394.8,515H409.1" stroke="#000" stroke-width="1.4000000000000001"/>
<path d="M401.95,512.71L404.13,516.61L399.77,516.61Z"/>
<text x="418.5" y="517.6" font-size="7.5">anti-Tim-3(823)</text>
<polyline points="331.5,521.47 365.3,549.72 399.1,567.2 432.9,593.64 466.7,597.69 500.5,601.95" fill="none" stroke="#000" stroke-width="1.3" stroke-dasharray="2,1.2"/>
<polyline points="331.5,593.53 365.3,601.84 399.1,605.79 432.9,612.72 466.7,612.5 500.5,614.64" fill="none" stroke="#000" stroke-width="1.3" stroke-dasharray="6,3"/>
<polyline points="331.5,527.22 365.3,565.92 399.1,585 432.9,594.38 466.7,611.01 500.5,610.16" fill="none" stroke="#000" stroke-width="1.3"/>
<path d="M331.5,501.21V541.72M329.9,501.21h3.2M329.9,541.72h3.2M365.3,537.99V561.44M363.7,537.99h3.2M363.7,561.44h3.2M399.1,558.67V575.73M397.5,558.67h3.2M397.5,575.73h3.2M432.9,587.77V599.5M431.3,587.77h3.2M431.3,599.5h3.2M466.7,589.37V606M465.1,589.37h3.2M465.1,606h3.2M500.5,598.22V605.68M498.9,598.22h3.2M498.9,605.68h3.2" fill="none" stroke="#000" stroke-width="1.2"/>
<rect x="329.35" y="519.32" width="4.3" height="4.3"/>
<rect x="363.15" y="547.57" width="4.3" height="4.3"/>
<rect x="396.95" y="565.05" width="4.3" height="4.3"/>
<rect x="430.75" y="591.49" width="4.3" height="4.3"/>
<rect x="464.55" y="595.54" width="4.3" height="4.3"/>
<rect x="498.35" y="599.8" width="4.3" height="4.3"/>
<path d="M331.5,591.4V595.66M329.9,591.4h3.2M329.9,595.66h3.2M365.3,598.65V605.04M363.7,598.65h3.2M363.7,605.04h3.2M399.1,599.39V612.18M397.5,599.39h3.2M397.5,612.18h3.2M432.9,607.39V618.05M431.3,607.39h3.2M431.3,618.05h3.2M466.7,608.24V616.77M465.1,608.24h3.2M465.1,616.77h3.2M500.5,610.37V618.9M498.9,610.37h3.2M498.9,618.9h3.2" fill="none" stroke="#000" stroke-width="1.2"/>
<path d="M331.5,590.83L334.06,595.42L328.94,595.42Z"/>
<path d="M365.3,599.14L367.87,603.73L362.74,603.73Z"/>
<path d="M399.1,603.09L401.67,607.68L396.54,607.68Z"/>
<path d="M432.9,610.02L435.46,614.61L430.33,614.61Z"/>
<path d="M466.7,609.8L469.26,614.39L464.13,614.39Z"/>
<path d="M500.5,611.94L503.06,616.53L497.94,616.53Z"/>
<path d="M331.5,510.17V544.28M329.9,510.17h3.2M329.9,544.28h3.2M365.3,553.66V578.18M363.7,553.66h3.2M363.7,578.18h3.2M399.1,577.01V593M397.5,577.01h3.2M397.5,593h3.2M432.9,589.05V599.71M431.3,589.05h3.2M431.3,599.71h3.2M466.7,607.81V614.21M465.1,607.81h3.2M465.1,614.21h3.2M500.5,606.96V613.36M498.9,606.96h3.2M498.9,613.36h3.2" fill="none" stroke="#000" stroke-width="1.2"/>
<path d="M331.5,524.52L334.06,529.11L328.94,529.11Z"/>
<path d="M365.3,563.22L367.87,567.81L362.74,567.81Z"/>
<path d="M399.1,582.3L401.67,586.89L396.54,586.89Z"/>
<path d="M432.9,591.68L435.46,596.27L430.33,596.27Z"/>
<path d="M466.7,608.31L469.26,612.9L464.13,612.9Z"/>
<path d="M500.5,607.46L503.06,612.05L497.94,612.05Z"/>
</g>
</svg>
</body></html>
